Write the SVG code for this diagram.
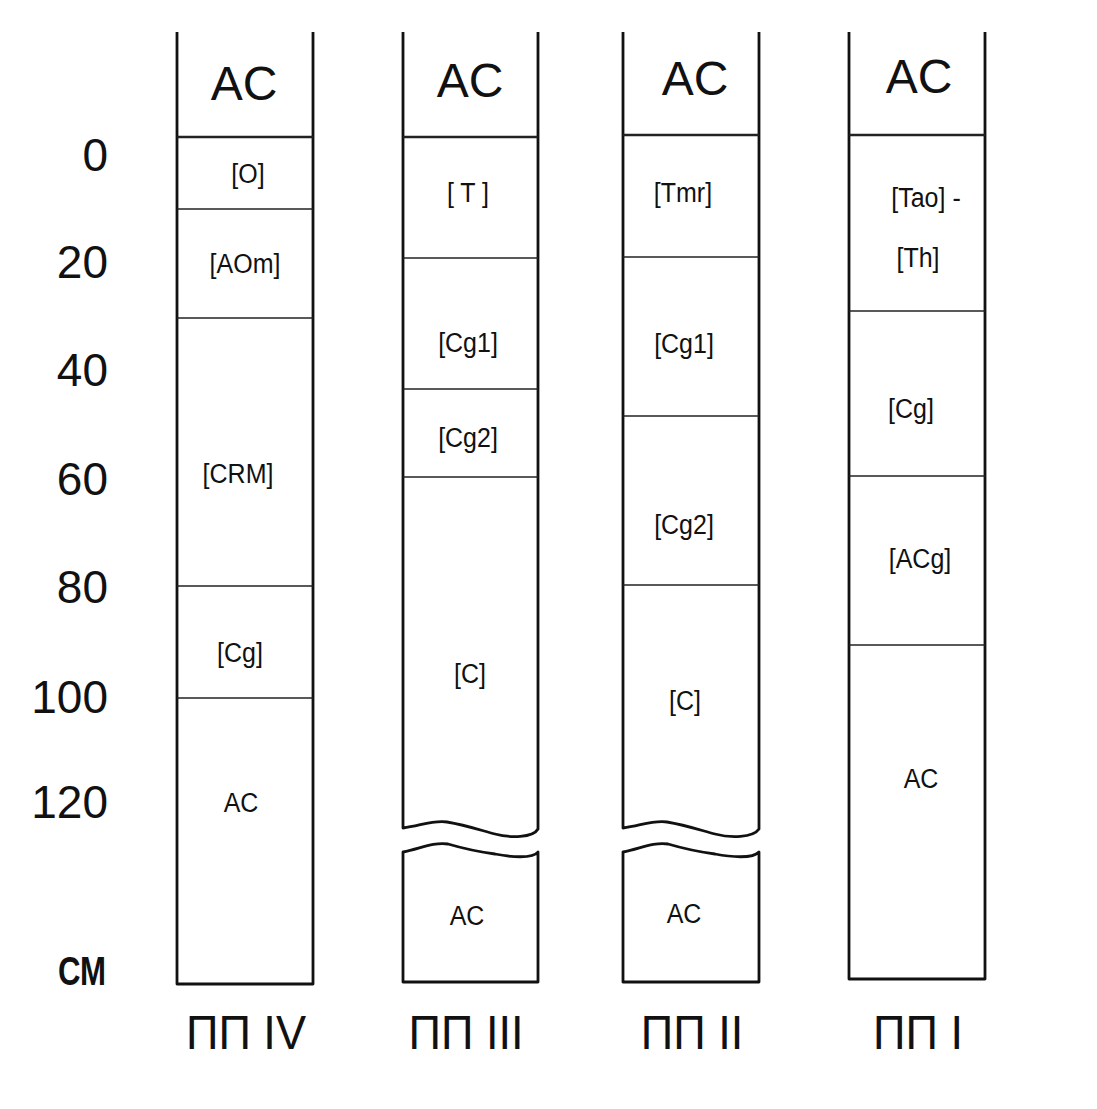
<svg xmlns="http://www.w3.org/2000/svg" width="1097" height="1109" viewBox="0 0 1097 1109">
<style>
text{font-family:"Liberation Sans",Arial,sans-serif;fill:#111;text-anchor:middle}
.big{font-size:48px}
.lab{font-size:25px;transform-box:fill-box;transform-origin:center;transform:scaleY(1.12)}
.num{font-size:46px;text-anchor:end}
.pp{font-size:48px;transform-box:fill-box;transform-origin:center;transform:scaleX(0.94)}
.wall{fill:none;stroke:#111;stroke-width:2.8;stroke-linejoin:round}
.div{stroke:#222;stroke-width:1.3}
</style>
<rect width="1097" height="1109" fill="#fff"/>
<g id="scale">
<text class="num" x="108" y="171">0</text>
<text class="num" x="108" y="278">20</text>
<text class="num" x="108" y="386">40</text>
<text class="num" x="108" y="495">60</text>
<text class="num" x="108" y="603">80</text>
<text class="num" x="108" y="713">100</text>
<text class="num" x="108" y="818">120</text>
<text x="82" y="985" style="font-size:40px;font-weight:bold" transform="translate(82 985) scale(0.78 1) translate(-82 -985)">СМ</text>
</g>
<g id="col-IV">
<path class="wall" d="M177,32 V984 H313 V32"/>
<line class="div" x1="177" y1="137" x2="313" y2="137" style="stroke-width:2.4"/>
<line class="div" x1="177" y1="209" x2="313" y2="209"/>
<line class="div" x1="177" y1="318" x2="313" y2="318"/>
<line class="div" x1="177" y1="586" x2="313" y2="586"/>
<line class="div" x1="177" y1="698" x2="313" y2="698"/>
<text class="big" x="244" y="100">AC</text>
<text class="lab" x="248" y="182">[O]</text>
<text class="lab" x="245" y="272">[AOm]</text>
<text class="lab" x="238" y="482">[CRM]</text>
<text class="lab" x="240" y="661">[Cg]</text>
<text class="lab" x="241" y="811">AC</text>
<text class="pp" x="246" y="1049">ПП IV</text>
</g>
<g id="col-III">
<path class="wall" d="M403,32 V828 C420,826 432,820 447,822 C465,825 480,830 495,834 C510,838 533,838 538,829 V32"/>
<path class="wall" d="M403,852 C420,849 432,842 448,844 C465,849 480,852 495,854 C510,857 533,859 538,852 V982 H403 Z"/>
<line class="div" x1="403" y1="137" x2="538" y2="137" style="stroke-width:2.4"/>
<line class="div" x1="403" y1="258" x2="538" y2="258"/>
<line class="div" x1="403" y1="389" x2="538" y2="389"/>
<line class="div" x1="403" y1="477" x2="538" y2="477"/>
<text class="big" x="470" y="97">AC</text>
<text class="lab" x="468" y="201" xml:space="preserve">[ T ]</text>
<text class="lab" x="468" y="351">[Cg1]</text>
<text class="lab" x="468" y="446">[Cg2]</text>
<text class="lab" x="470" y="682">[C]</text>
<text class="lab" x="467" y="924">AC</text>
<text class="pp" x="466" y="1049">ПП III</text>
</g>
<g id="col-II">
<path class="wall" d="M623,32 V828 C640,826 652,820 667,822 C685,825 700,830 715,834 C730,838 753,838 759,829 V32"/>
<path class="wall" d="M623,852 C640,849 652,842 668,844 C685,849 700,852 715,854 C730,857 753,859 759,852 V982 H623 Z"/>
<line class="div" x1="623" y1="135" x2="759" y2="135" style="stroke-width:2.4"/>
<line class="div" x1="623" y1="257" x2="759" y2="257"/>
<line class="div" x1="623" y1="416" x2="759" y2="416"/>
<line class="div" x1="623" y1="585" x2="759" y2="585"/>
<text class="big" x="695" y="95">AC</text>
<text class="lab" x="683" y="201">[Tmr]</text>
<text class="lab" x="684" y="352">[Cg1]</text>
<text class="lab" x="684" y="533">[Cg2]</text>
<text class="lab" x="685" y="709">[C]</text>
<text class="lab" x="684" y="922">AC</text>
<text class="pp" x="692" y="1049">ПП II</text>
</g>
<g id="col-I">
<path class="wall" d="M849,32 V979 H985 V32"/>
<line class="div" x1="849" y1="135" x2="985" y2="135" style="stroke-width:2.4"/>
<line class="div" x1="849" y1="311" x2="985" y2="311"/>
<line class="div" x1="849" y1="476" x2="985" y2="476"/>
<line class="div" x1="849" y1="645" x2="985" y2="645"/>
<text class="big" x="919" y="93">AC</text>
<text class="lab" x="926" y="206">[Tao] -</text>
<text class="lab" x="918" y="266">[Th]</text>
<text class="lab" x="911" y="417">[Cg]</text>
<text class="lab" x="920" y="567">[ACg]</text>
<text class="lab" x="921" y="787">AC</text>
<text class="pp" x="918" y="1049">ПП I</text>
</g>
</svg>
